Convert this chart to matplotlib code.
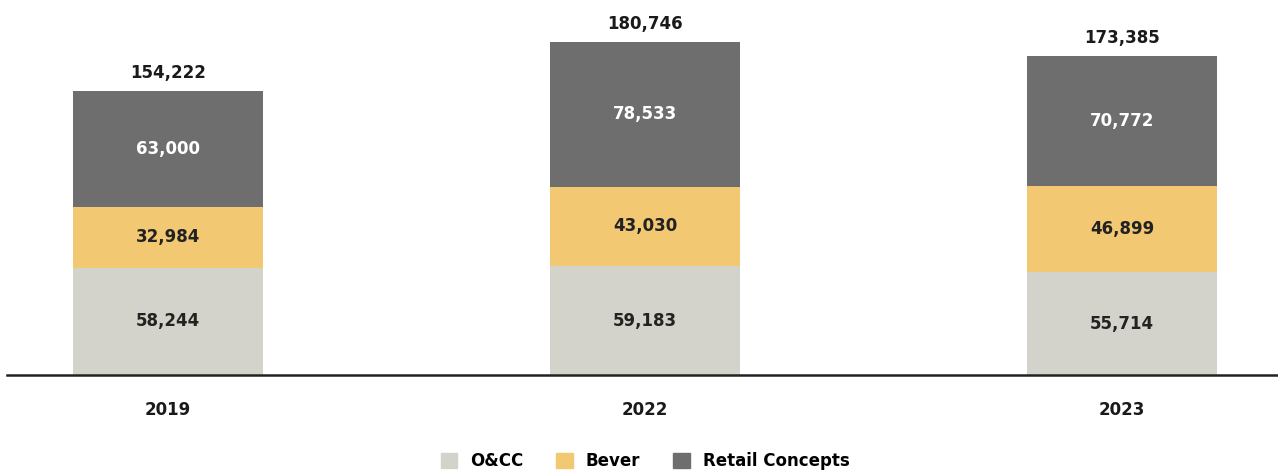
import matplotlib
matplotlib.use("Agg")
import matplotlib.pyplot as plt
from matplotlib.patches import Patch

years = ["2019", "2022", "2023"]
occ = [58244, 59183, 55714]
bever = [32984, 43030, 46899]
retail = [63000, 78533, 70772]
totals = [154222, 180746, 173385]
series_names = ["O&CC", "Bever", "Retail Concepts"]
colors = ["#D3D3CB", "#F2C872", "#6E6E6E"]

plt.rcParams['font.family'] = ['DejaVu Sans']

W, H = 1278, 470
fig = plt.figure(figsize=(W/100, H/100), dpi=100)
left_px = 7
ax = fig.add_axes([left_px/W, 95/H, (W-left_px)/W, (H-95)/H])
x = list(range(len(years)))
step = 477.0
x0 = -(168-left_px)/step
ax.set_xlim(x0, x0 + (W-left_px)/step)
ax.set_ylim(0, 375*543.0)

width = 190/step
bottoms = [0]*3
for vals, col, name in zip([occ, bever, retail], colors, series_names):
    ax.bar(x, vals, width, bottom=bottoms, color=col, label=name, linewidth=0)
    for xi, v, b in zip(x, vals, bottoms):
        tc = "white" if col == "#6E6E6E" else "#222222"
        ax.text(xi, b + v/2, f"{v:,}", ha="center", va="center", color=tc,
                fontsize=12, fontweight="bold")
    bottoms = [b + v for b, v in zip(bottoms, vals)]

for xi, t in zip(x, totals):
    ax.annotate(f"{t:,}", (xi, t), xytext=(0, 18), textcoords="offset pixels",
                ha="center", va="center", fontsize=12, fontweight="bold", color="#1a1a1a")

for s in ["top", "right", "left"]:
    ax.spines[s].set_visible(False)
ax.spines["bottom"].set_linewidth(1.8)
ax.spines["bottom"].set_color("#222222")
ax.set_yticks([])
ax.set_xticks(x)
ax.set_xticklabels(years, fontsize=12, fontweight="bold", color="#1a1a1a")
ax.tick_params(axis="x", length=0, pad=19)
ax.patch.set_alpha(0)

handles = [Patch(color=c, label=n) for c, n in zip(colors, series_names)]
fig.legend(handles=handles, loc="center", bbox_to_anchor=(645/W, 9/H), ncol=3,
           frameon=False, prop={"size": 12, "weight": "bold"},
           handlelength=1.0, handleheight=1.0, columnspacing=2.0, handletextpad=0.75)

fig.savefig("out.png", dpi=100)
